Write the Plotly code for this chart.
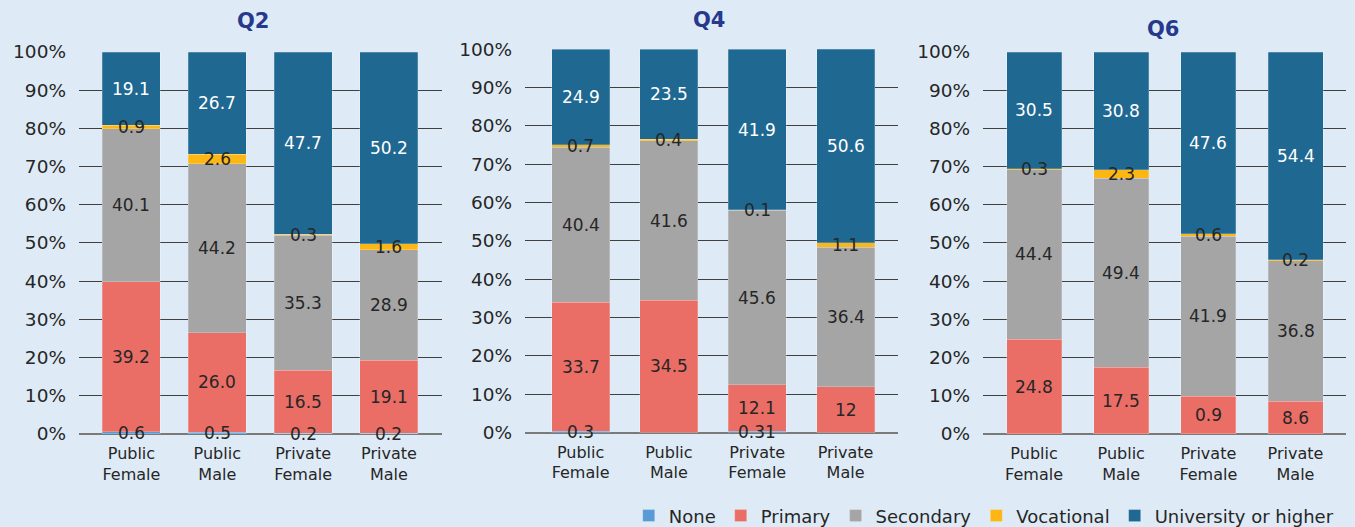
import plotly.graph_objects as go

# ---------------- data ----------------
categories = ["Public<br>Female", "Public<br>Male", "Private<br>Female", "Private<br>Male"]
series_names = ["None", "Primary", "Secondary", "Vocational", "University or higher"]
panel_titles = ["Q2", "Q4", "Q6"]
y_ticks = [0, 10, 20, 30, 40, 50, 60, 70, 80, 90, 100]
y_tick_labels = ["0%", "10%", "20%", "30%", "40%", "50%", "60%", "70%", "80%", "90%", "100%"]

q2_none = [0.6, 0.5, 0.2, 0.2]
q2_primary = [39.2, 26.0, 16.5, 19.1]
q2_secondary = [40.1, 44.2, 35.3, 28.9]
q2_vocational = [0.9, 2.6, 0.3, 1.6]
q2_university = [19.1, 26.7, 47.7, 50.2]

q4_none = [0.3, 0.0, 0.31, 0.0]
q4_primary = [33.7, 34.5, 12.1, 12.0]
q4_secondary = [40.4, 41.6, 45.6, 36.4]
q4_vocational = [0.7, 0.4, 0.1, 1.1]
q4_university = [24.9, 23.5, 41.9, 50.6]

q6_none = [0.0, 0.0, 0.0, 0.0]
q6_primary = [24.8, 17.5, 9.9, 8.6]
q6_secondary = [44.4, 49.4, 41.9, 36.8]
q6_vocational = [0.3, 2.3, 0.6, 0.2]
q6_university = [30.5, 30.8, 47.6, 54.4]

# labels as printed in the source (where they differ from default formatting)
label_overrides = {
    ("Q4", "Primary", 3): "12",
    ("Q4", "None", 2): "0.31",
    ("Q6", "Primary", 2): "0.9",
}

panels = {
    "Q2": [q2_none, q2_primary, q2_secondary, q2_vocational, q2_university],
    "Q4": [q4_none, q4_primary, q4_secondary, q4_vocational, q4_university],
    "Q6": [q6_none, q6_primary, q6_secondary, q6_vocational, q6_university],
}

# ---------------- style ----------------
colors = ["#5B9BD5", "#EA6E66", "#A5A5A5", "#FDB714", "#1F6891"]
text_colors = ["#262626", "#262626", "#262626", "#262626", "#FFFFFF"]
bg = "#DEEBF7"
font_family = "DejaVu Sans"
x_domains = [[0.0583, 0.3260], [0.3875, 0.6630], [0.7255, 0.9934]]
x_ranges = [[-0.611, 3.615], [-0.629, 3.598], [-0.585, 3.580]]
bar_widths = [0.676, 0.657, 0.631]
y_domains = [[0.1765, 0.9013], [0.1793, 0.9065], [0.1765, 0.9013]]
title_x = [0.1867, 0.5232, 0.8583]
title_y = [0.960, 0.962, 0.945]

fig = go.Figure()
annotations = []
for pi, q in enumerate(panel_titles):
    suffix = "" if pi == 0 else str(pi + 1)
    base = [0.0] * len(categories)
    for si, name in enumerate(series_names):
        vals = panels[q][si]
        fig.add_trace(go.Bar(
            x=categories, y=vals, name=name, width=bar_widths[pi],
            xaxis="x" + suffix, yaxis="y" + suffix,
            marker=dict(color=colors[si], line=dict(color="rgba(255,255,255,0.35)", width=0.6)),
            showlegend=(pi == 0), legendgroup=name,
        ))
        for ci, v in enumerate(vals):
            key = (q, name, ci)
            if key in label_overrides:
                txt = label_overrides[key]
            elif v == 0:
                txt = ""
            else:
                txt = f"{v:.1f}"
            if txt:
                annotations.append(dict(
                    text=txt, x=categories[ci], y=base[ci] + v / 2,
                    xref="x" + suffix, yref="y" + suffix, showarrow=False,
                    font=dict(size=17, color=text_colors[si], family=font_family),
                ))
            base[ci] += v

layout = dict(
    width=1355, height=527,
    margin=dict(l=0, r=0, t=0, b=0, autoexpand=False),
    paper_bgcolor=bg, plot_bgcolor=bg,
    barmode="stack",
    font=dict(family=font_family, color="#262626"),
    legend=dict(orientation="h", x=0.988, xanchor="right", y=-0.014, yanchor="bottom",
                font=dict(size=18, color="#262626"), bgcolor="rgba(0,0,0,0)",
                itemwidth=30, traceorder="normal"),
)
for pi, q in enumerate(panel_titles):
    suffix = "" if pi == 0 else str(pi + 1)
    layout["xaxis" + suffix] = dict(
        domain=x_domains[pi], anchor="y" + suffix, range=x_ranges[pi],
        showgrid=False, showline=False,
        zeroline=False, ticks="", tickfont=dict(size=16, color="#262626"),
        ticklabelstandoff=8, automargin=False,
    )
    layout["yaxis" + suffix] = dict(
        domain=y_domains[pi], anchor="x" + suffix, range=[0, 100],
        tickmode="array", tickvals=y_ticks, ticktext=y_tick_labels,
        showgrid=True, gridcolor="#404040", gridwidth=1,
        zeroline=True, zerolinecolor="#7A7A7A", zerolinewidth=2, showline=False,
        tickfont=dict(size=18.5, color="#262626"), ticklabelstandoff=12, automargin=False,
    )
    annotations.append(dict(
        text="<b>" + q + "</b>", x=title_x[pi], y=title_y[pi],
        xref="paper", yref="paper", showarrow=False, yanchor="middle", xanchor="center",
        font=dict(size=21, color="#26398C", family=font_family),
    ))
layout["annotations"] = annotations

fig.update_layout(**layout)
fig.write_html("out.html")
